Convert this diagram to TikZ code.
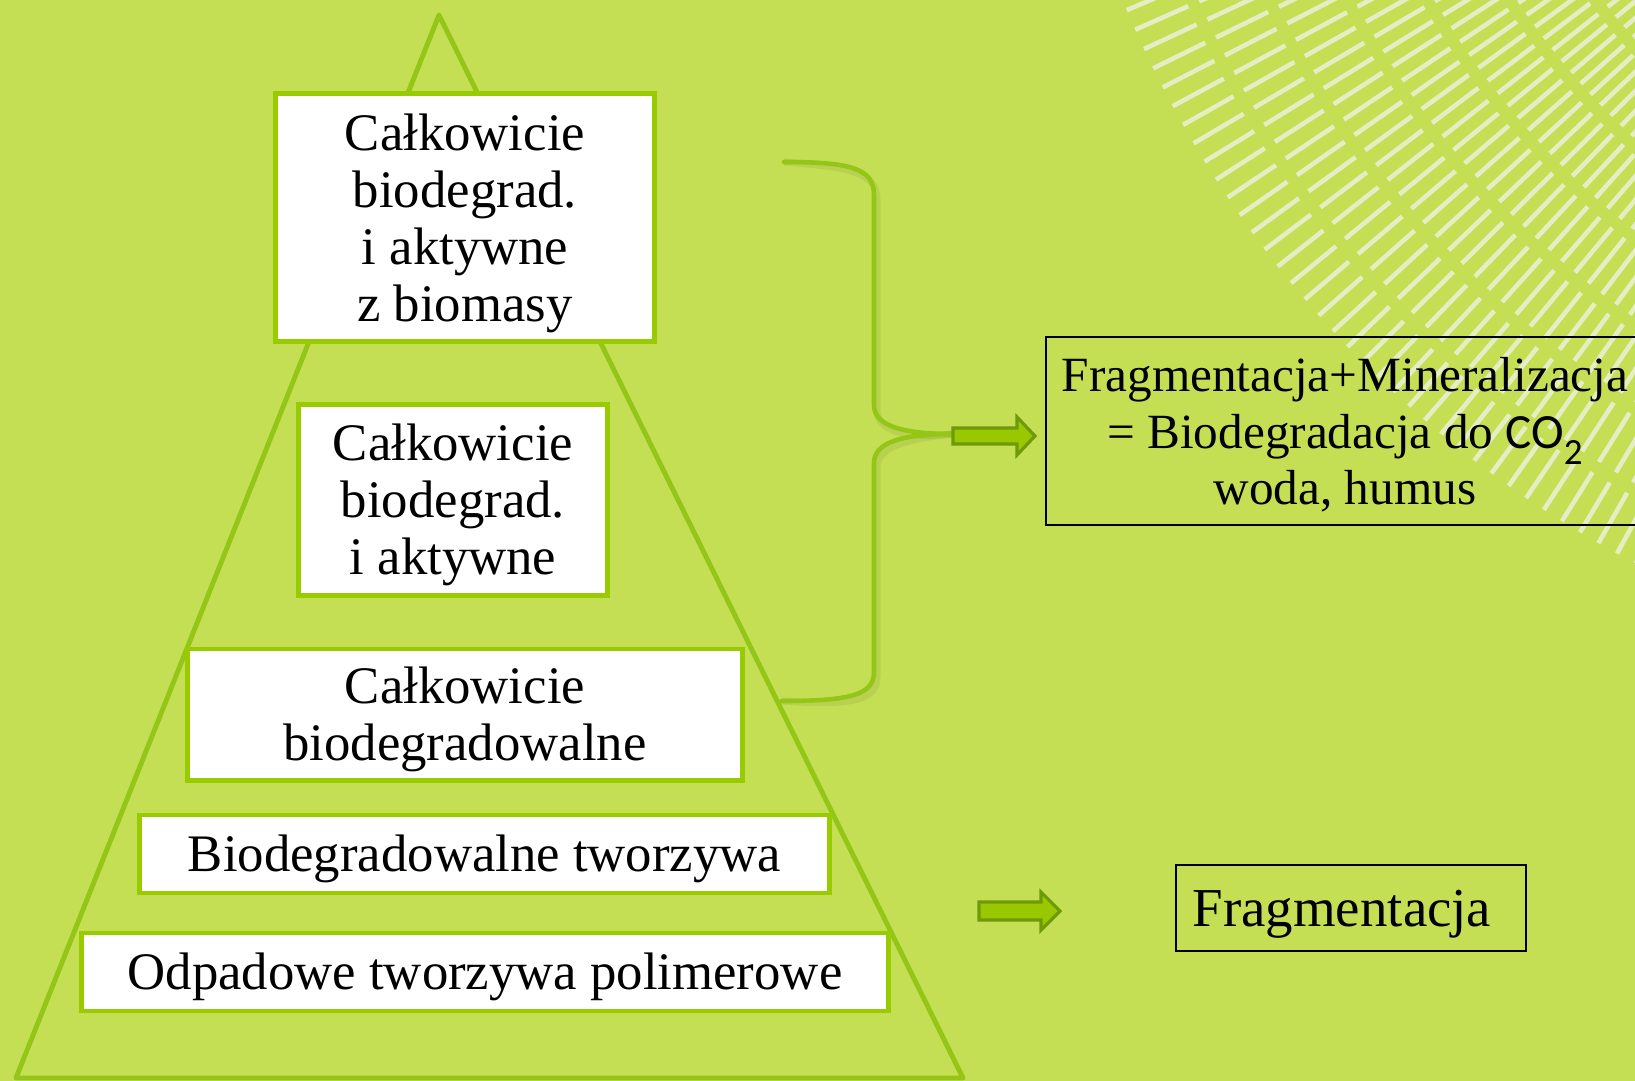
\documentclass[tikz,border=0pt]{standalone}
\usepackage{fontspec}
\setmainfont{Liberation Serif}
\newfontfamily\carlito{Carlito}
\definecolor{bg}{HTML}{C5DF55}
\definecolor{trig}{HTML}{94C618}
\definecolor{boxg}{HTML}{99CC00}
\definecolor{hatchc}{HTML}{E4EDC4}
\definecolor{arrdark}{HTML}{6E9A0A}
\definecolor{arrfill}{HTML}{99C800}
\begin{document}
\begin{tikzpicture}[x=0.01cm,y=-0.01cm,
  pbox/.style={draw=boxg, line width=1.4pt, fill=white, inner sep=0pt},
  ptext/.style={inner sep=0pt, align=center, font=\fontsize{15}{16.2}\selectfont},
  rbox/.style={draw=black, line width=0.6pt, inner sep=0pt},
  rtext/.style={inner sep=0pt, align=center},
  hatchline/.style={draw=hatchc, line width=1.3pt, dash pattern=on 16.5pt off 3.4pt},
  bracel/.style={draw=trig, line width=1.3pt, line cap=round},
  braceshadow/.style={draw=black, opacity=0.06, line width=2pt},
  blockarrow/.style={draw=arrdark, fill=arrfill, line width=0.9pt, line join=miter}
]
\useasboundingbox (0,0) rectangle (1635,1081);
\begin{scope}
\clip (0,0) rectangle (1635,1081);
\fill[bg] (0,0) rectangle (1635,1081);
% decorative dashed fan
\foreach \a in {100,101.1,...,178} {
  \draw[hatchline] ({2150+1110*cos(\a)},{-420+1110*sin(\a)}) -- ({2150+450*cos(\a)},{-420+450*sin(\a)});
}
% pyramid
\draw[draw=trig, line width=1.4pt, line join=round] (439,15) -- (963,1078) -- (16,1078) -- cycle;
\end{scope}

% pyramid boxes
\node[pbox, minimum width=3.78cm, minimum height=2.47cm] (b1) at (465,217.5) {};
\node[ptext] (b1t) at (465,223) {Całkowicie\\biodegrad.\\i aktywne\\z biomasy};
\node[pbox, minimum width=3.08cm, minimum height=1.90cm] (b2) at (453,500) {};
\node[ptext] (b2t) at (453,505) {Całkowicie\\biodegrad.\\i aktywne};
\node[pbox, minimum width=5.54cm, minimum height=1.31cm] (b3) at (465,714.5) {};
\node[ptext] (b3t) at (465,719.5) {Całkowicie\\biodegradowalne};
\node[pbox, minimum width=6.89cm, minimum height=0.78cm] (b4) at (484.5,854) {};
\node[ptext] (b4t) at (484.5,859) {Biodegradowalne tworzywa};
\node[pbox, minimum width=8.06cm, minimum height=0.78cm] (b5) at (485,972) {};
\node[ptext] (b5t) at (485,977) {Odpadowe tworzywa polimerowe};

% right boxes
\begin{scope}
\clip (0,0) rectangle (1635,1081);
\node[rbox, minimum width=5.98cm, minimum height=1.88cm] (r1) at (1345,431) {};
\end{scope}
\node[rtext, font=\fontsize{14}{16.1}\selectfont] (r1t) at (1345,435)
  {Fragmentacja+Mineralizacja\\= Biodegradacja do {\carlito CO\raisebox{-0.32em}{\fontsize{10.5}{12}\selectfont 2}}\\woda, humus};
\node[rbox, minimum width=3.5cm, minimum height=0.86cm] (r2) at (1351,908) {};
\node[rtext, font=\fontsize{15.6}{18}\selectfont] (r2t) at (1342,914) {Fragmentacja};

% brace
\coordinate (btop) at (784,162);
\coordinate (btip) at (953,434);
\coordinate (bbot) at (782,701);
\begin{scope}[shift={(3,5)}]
\draw[braceshadow] (btop) .. controls (850,162) and (874,168) .. (874,195) -- (874,405)
  .. controls (874,425) and (900,434) .. (btip);
\draw[braceshadow] (btip) .. controls (900,434) and (874,443) .. (874,463) -- (874,672)
  .. controls (874,695) and (850,701) .. (bbot);
\end{scope}
\draw[bracel] (btop) .. controls (850,162) and (874,168) .. (874,195) -- (874,405)
  .. controls (874,425) and (900,434) .. (btip);
\draw[bracel] (btip) .. controls (900,434) and (874,443) .. (874,463) -- (874,672)
  .. controls (874,695) and (850,701) .. (bbot);

% block arrows
\coordinate (a1e) at (1035,436);
\draw[blockarrow] (btip) ++(0,-6) -- (1017,428) -- (1017,417) -- (a1e) -- (1017,455) -- (1017,444) -- (953,444) -- cycle;
\coordinate (a2s) at (979,911);
\coordinate (a2e) at (1060,911);
\draw[blockarrow] (a2s) ++(0,-9) -- (1041,902) -- (1041,892) -- (a2e) -- (1041,930) -- (1041,920) -- (979,920) -- cycle;
\end{tikzpicture}
\end{document}
